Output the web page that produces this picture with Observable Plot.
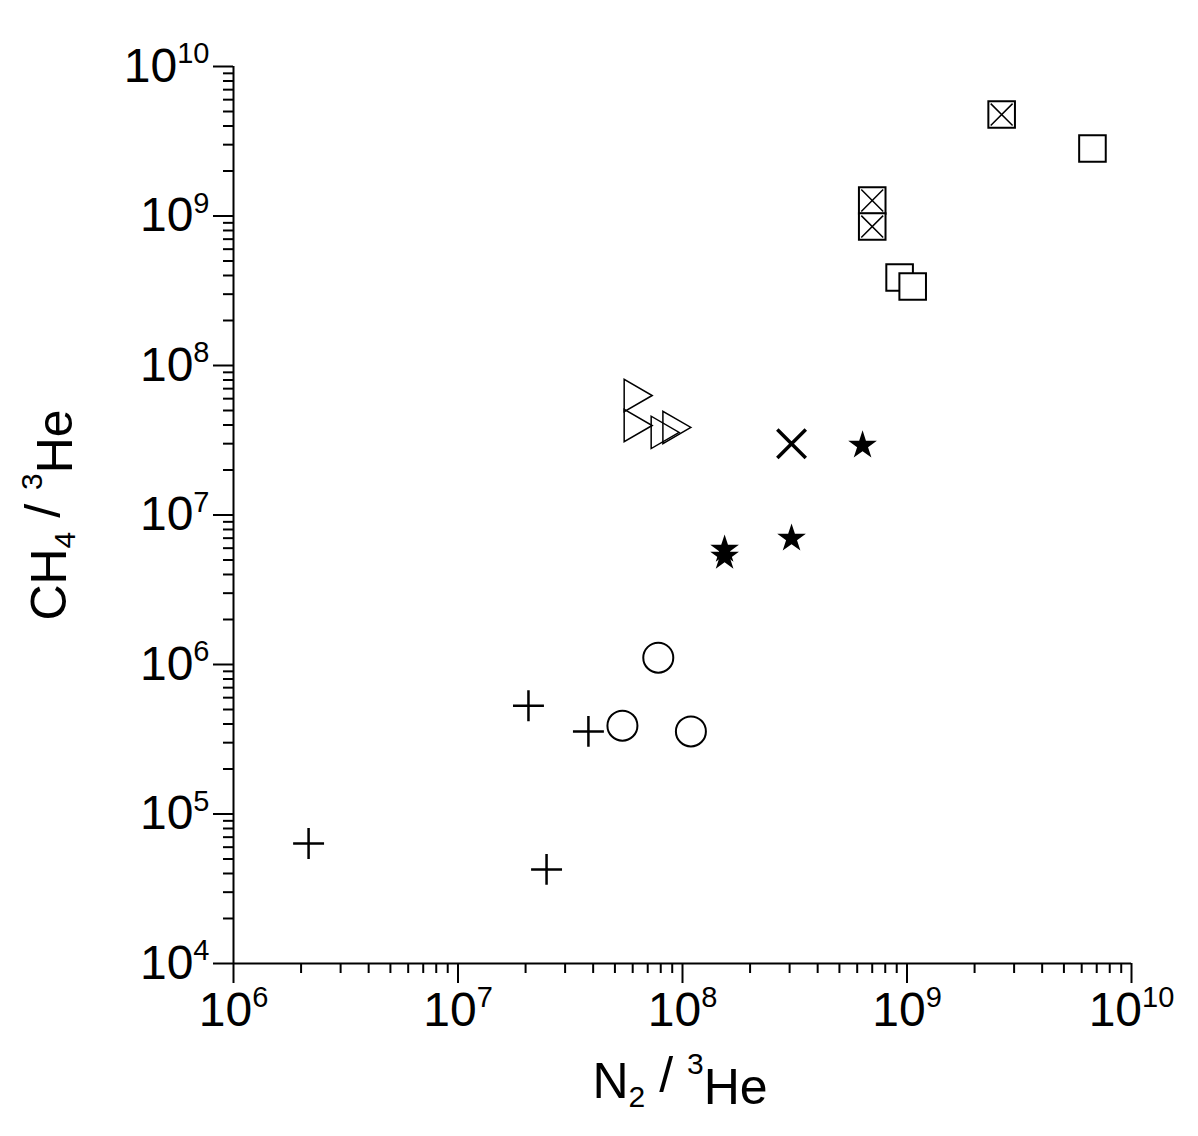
<!DOCTYPE html>
<html><head><meta charset="utf-8">
<script src="https://cdn.jsdelivr.net/npm/d3@7"></script>
<script src="https://cdn.jsdelivr.net/npm/@observablehq/plot@0.6"></script>
<style>body{margin:0;background:#fff}</style>
</head><body><div id="chart"></div>
<script>
// values (N2/3He, CH4/3He)
const plusX = [2.16e6, 2.06e7, 3.81e7, 2.48e7];
const plusY = [6.35e4, 5.3e5, 3.57e5, 4.26e4];
const circX = [5.4e7, 7.8e7, 1.09e8];
const circY = [3.9e5, 1.11e6, 3.57e5];
const triX = [6.05e7, 6.05e7, 7.98e7, 9.0e7];
const triY = [6.3e7, 3.97e7, 3.57e7, 3.85e7];
const starX = [1.54e8, 1.54e8, 3.06e8, 6.34e8];
const starY = [5.88e6, 5.28e6, 6.97e6, 2.92e7];
const timesX = [3.06e8];
const timesY = [3.0e7];
const sqX = [9.27e8, 1.06e9, 6.7e9];
const sqY = [3.88e8, 3.38e8, 2.83e9];
const bxX = [7.0e8, 7.0e8, 2.64e9];
const bxY = [1.27e9, 8.5e8, 4.77e9];

const xMajor = [1e6, 1e7, 1e8, 1e9, 1e10];
const yMajor = [1e4, 1e5, 1e6, 1e7, 1e8, 1e9, 1e10];
const minors = (lo, hi) => d3.range(lo, hi).flatMap(e => d3.range(2, 10).map(m => m * 10 ** e));
const xMinor = minors(6, 10);
const yMinor = minors(4, 10);

const pts = (xs, ys) => xs.map((x, i) => ({x, y: ys[i]}));
const fmt = d => String(Math.round(Math.log10(d)));
const font = "Liberation Sans, Arial, sans-serif";

const chart = Plot.plot({
  width: 1198, height: 1136,
  marginLeft: 233, marginRight: 67, marginTop: 66, marginBottom: 173,
  style: {fontFamily: font, color: "black", background: "white"},
  x: {type: "log", domain: [1e6, 1e10]},
  y: {type: "log", domain: [1e4, 1e10]},
  marks: [
    Plot.axisX(xMinor, {tickSize: 10, tickFormat: () => "", strokeWidth: 2, label: null}),
    Plot.axisX(xMajor, {tickSize: 20, tickFormat: fmt, tickPadding: 8, strokeWidth: 2, label: null}),
    Plot.axisY(yMinor, {tickSize: 10, tickFormat: () => "", strokeWidth: 2, label: null}),
    Plot.axisY(yMajor, {tickSize: 20, tickFormat: fmt, tickPadding: 4, strokeWidth: 2, label: null}),
    Plot.ruleY([1e4], {strokeWidth: 2}),
    Plot.ruleX([1e6], {strokeWidth: 2}),
    Plot.dot(pts(plusX, plusY), {x: "x", y: "y", symbol: "plus", r: 10, stroke: "black", strokeWidth: 2.5}),
    Plot.dot(pts(circX, circY), {x: "x", y: "y", symbol: "circle", r: 15, stroke: "black", strokeWidth: 2, fill: "white"}),
    Plot.dot(pts(triX, triY), {x: "x", y: "y", symbol: "triangle", r: 12, rotate: 90, stroke: "black", strokeWidth: 1.5, fill: "none"}),
    Plot.dot(pts(starX, starY), {x: "x", y: "y", symbol: "star", r: 9, fill: "black", stroke: "none"}),
    Plot.dot(pts(timesX, timesY), {x: "x", y: "y", symbol: "times", r: 13, stroke: "black", strokeWidth: 3.5}),
    Plot.dot(pts(sqX, sqY), {x: "x", y: "y", symbol: "square", r: 15, stroke: "black", strokeWidth: 2, fill: "white"}),
    Plot.dot(pts(bxX, bxY), {x: "x", y: "y", symbol: "square", r: 15, stroke: "black", strokeWidth: 2, fill: "white"}),
    Plot.dot(pts(bxX, bxY), {x: "x", y: "y", symbol: "times", r: 10, stroke: "black", strokeWidth: 1.5})
  ]
});

// turn exponent tick labels into 10 with a superscript
d3.select(chart).selectAll("g[aria-label='x-axis tick label'] text, g[aria-label='y-axis tick label'] text").each(function() {
  const t = d3.select(this);
  const e = t.text();
  if (!e) return;
  t.text("").attr("font-size", 48).style("font-size", "48px");
  t.append("tspan").text("10");
  t.append("tspan").attr("dy", "-0.65em").attr("font-size", 29).style("font-size", "29px").text(e);
});

const svg = d3.select(chart);
function label(t) {
  t.attr("font-size", 50).attr("font-family", font).attr("text-anchor", "middle");
  return t;
}
const xl = label(svg.append("text").attr("x", 680).attr("y", 1098));
xl.append("tspan").text("N");
xl.append("tspan").attr("font-size", 30).attr("dy", "0.3em").text("2");
xl.append("tspan").attr("dy", "-0.3em").text(" / ");
xl.append("tspan").attr("font-size", 30).attr("dy", "-0.6em").text("3");
xl.append("tspan").attr("dy", "0.6em").text("He");

const yl = label(svg.append("text").attr("transform", "translate(66,515) rotate(-90)"));
yl.append("tspan").text("CH");
yl.append("tspan").attr("font-size", 30).attr("dy", "0.3em").text("4");
yl.append("tspan").attr("dy", "-0.3em").text(" / ");
yl.append("tspan").attr("font-size", 30).attr("dy", "-0.6em").text("3");
yl.append("tspan").attr("dy", "0.6em").text("He");

document.getElementById("chart").append(chart);
</script>
</body></html>
